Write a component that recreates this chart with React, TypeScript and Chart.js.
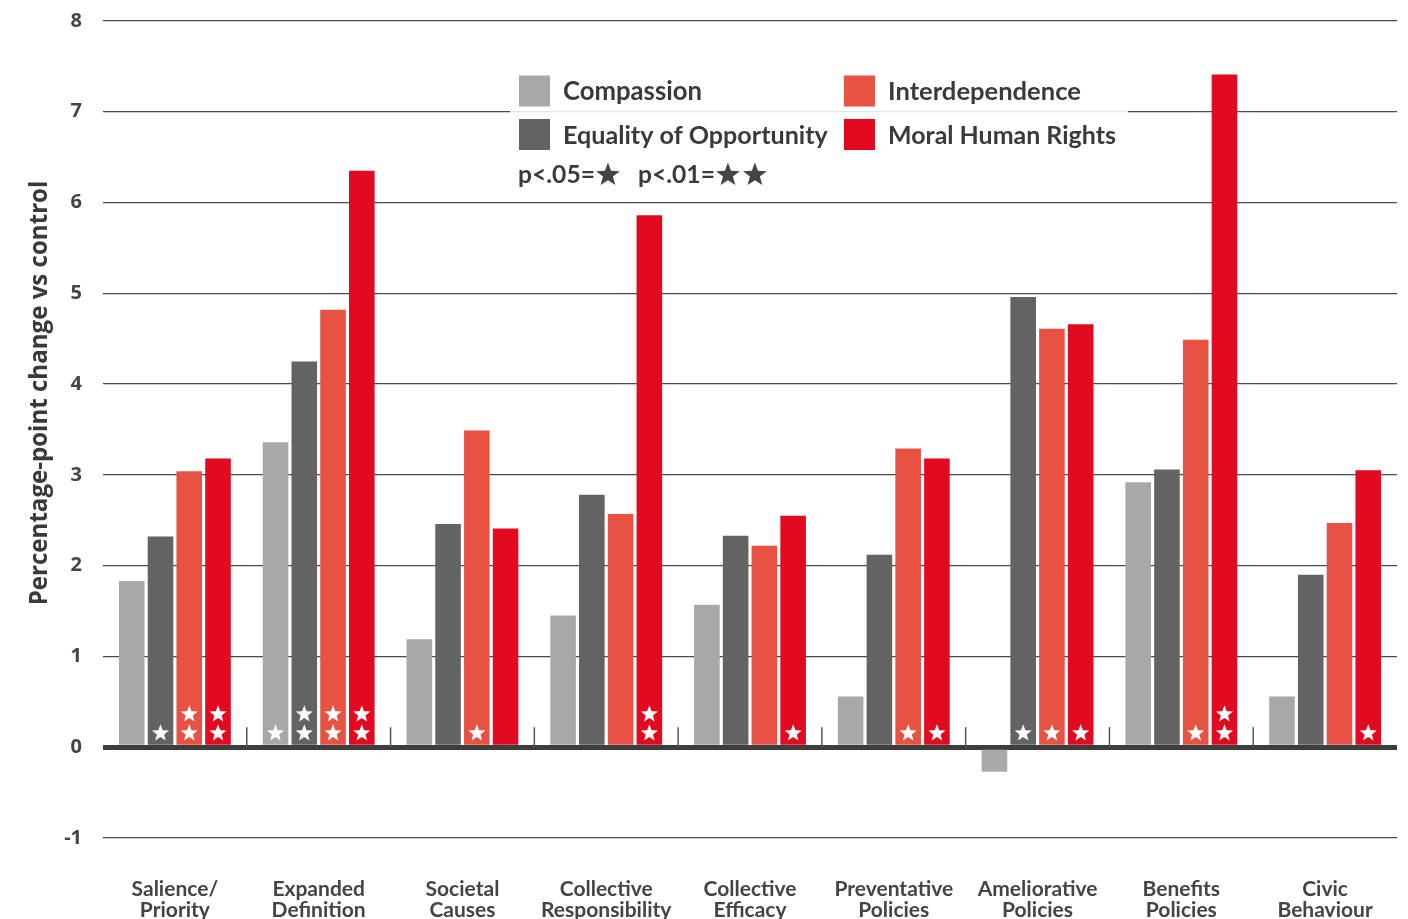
import React, { useEffect, useRef } from 'react';
import { Chart, registerables } from 'chart.js';

Chart.register(...registerables);

const categories: string[][] = [
  ['Salience/', 'Priority'],
  ['Expanded', 'Definition'],
  ['Societal', 'Causes'],
  ['Collective', 'Responsibility'],
  ['Collective', 'Efficacy'],
  ['Preventative', 'Policies'],
  ['Ameliorative', 'Policies'],
  ['Benefits', 'Policies'],
  ['Civic', 'Behaviour'],
];

const seriesNames = ['Compassion', 'Equality of Opportunity', 'Interdependence', 'Moral Human Rights'];
const seriesColors = ['#a8a8a8', '#636363', '#e85243', '#e20a20'];

const compassion = [1.83, 3.36, 1.19, 1.45, 1.57, 0.56, -0.27, 2.92, 0.56];
const equality = [2.32, 4.25, 2.46, 2.78, 2.33, 2.12, 4.96, 3.06, 1.9];
const interdependence = [3.04, 4.82, 3.49, 2.57, 2.22, 3.29, 4.61, 4.49, 2.47];
const moralRights = [3.18, 6.35, 2.41, 5.86, 2.55, 3.18, 4.66, 7.41, 3.05];

// number of significance stars per bar (1 = p<.05, 2 = p<.01)
const compassionStars = [0, 1, 0, 0, 0, 0, 0, 0, 0];
const equalityStars = [1, 2, 0, 0, 0, 0, 1, 0, 0];
const interdependenceStars = [2, 2, 1, 0, 0, 1, 1, 1, 0];
const moralStars = [2, 2, 0, 2, 1, 1, 1, 2, 1];

const yTitle = 'Percentage-point change vs control';
const pLegend = [
  { label: 'p<.05=', stars: 1 },
  { label: 'p<.01=', stars: 2 },
];

const FONT = 'Lato, "Open Sans", sans-serif';
const TICKFONT = '"Open Sans", Lato, sans-serif';
const TEXT = '#444444';

function drawStar(ctx: CanvasRenderingContext2D, cx: number, cy: number, R: number, r: number) {
  ctx.beginPath();
  for (let i = 0; i < 10; i++) {
    const a = -Math.PI / 2 + (i * Math.PI) / 5;
    const rad = i % 2 ? r : R;
    const x = cx + rad * Math.cos(a);
    const y = cy + rad * Math.sin(a);
    if (i === 0) ctx.moveTo(x, y);
    else ctx.lineTo(x, y);
  }
  ctx.closePath();
  ctx.fill();
}

function fitFont(ctx: CanvasRenderingContext2D, text: string, weight: string, family: string, target: number, start: number) {
  ctx.font = `${weight} ${start}px ${family}`;
  const w = ctx.measureText(text).width;
  const size = (start * target) / w;
  ctx.font = `${weight} ${size}px ${family}`;
}

const decorPlugin = {
  id: 'decor',
  afterDraw(chart: any) {
    const ctx: CanvasRenderingContext2D = chart.ctx;
    const xs = chart.scales.x;
    const ys = chart.scales.y;
    const zeroY = ys.getPixelForValue(0);
    ctx.save();

    // category separator ticks on zero line
    const n = categories.length;
    const catW = (chart.chartArea.right - chart.chartArea.left) / n;
    ctx.strokeStyle = '#555555';
    ctx.lineWidth = 1.5;
    for (let i = 1; i < n; i++) {
      const x = xs.getPixelForValue(i) - catW / 2;
      ctx.beginPath();
      ctx.moveTo(x, zeroY - 20);
      ctx.lineTo(x, zeroY);
      ctx.stroke();
    }

    // stars in bars
    const starSets = [compassionStars, equalityStars, interdependenceStars, moralStars];
    ctx.fillStyle = '#ffffff';
    starSets.forEach((set, d) => {
      const meta = chart.getDatasetMeta(d);
      set.forEach((cnt, i) => {
        const bar = meta.data[i];
        for (let k = 0; k < cnt; k++) {
          drawStar(ctx, bar.x, zeroY - 14 - k * 19, 9, 3.8);
        }
      });
    });
    ctx.restore();

    // y axis title
    ctx.save();
    ctx.fillStyle = '#3a3a3a';
    fitFont(ctx, yTitle, 'bold', TICKFONT, 425, 21);
    ctx.translate(40, 393);
    ctx.rotate(-Math.PI / 2);
    ctx.textAlign = 'center';
    ctx.textBaseline = 'middle';
    ctx.fillText(yTitle, 0, 0);
    ctx.restore();

    // legend
    ctx.save();
    ctx.fillStyle = 'rgba(255,255,255,0.86)';
    ctx.fillRect(510, 64, 618, 130);
    const cols = [519, 844];
    const rows = [91, 134.5];
    ctx.textBaseline = 'middle';
    ctx.textAlign = 'left';
    const targets = [139, 265, 193, 228];
    seriesNames.forEach((name, idx) => {
      const col = idx === 0 || idx === 1 ? 0 : 1;
      const row = idx === 0 || idx === 2 ? 0 : 1;
      const x = cols[col];
      const y = rows[row];
      ctx.fillStyle = seriesColors[idx];
      ctx.fillRect(x, y - 15.5, 31, 31);
      ctx.fillStyle = '#3a3a3a';
      fitFont(ctx, name, 'bold', FONT, targets[idx], 24);
      ctx.fillText(name, x + 44, y + 1);
    });
    fitFont(ctx, 'p<.05=', 'bold', FONT, 77, 22);
    let px = 518;
    const py = 175;
    pLegend.forEach((p) => {
      ctx.fillStyle = '#3a3a3a';
      ctx.fillText(p.label, px, py);
      px += ctx.measureText(p.label).width;
      ctx.fillStyle = '#444444';
      for (let k = 0; k < p.stars; k++) {
        drawStar(ctx, px + 13, py, 12.5, 5.2);
        px += 27;
      }
      px += 16;
    });
    ctx.restore();
  },
};

export default function App() {
  const ref = useRef<HTMLCanvasElement>(null);
  useEffect(() => {
    document.body.style.margin = '0';
    if (!ref.current) return;
    const chart = new Chart(ref.current, {
      type: 'bar',
      data: {
        labels: categories,
        datasets: [
          { label: seriesNames[0], data: compassion, backgroundColor: seriesColors[0] },
          { label: seriesNames[1], data: equality, backgroundColor: seriesColors[1] },
          { label: seriesNames[2], data: interdependence, backgroundColor: seriesColors[2] },
          { label: seriesNames[3], data: moralRights, backgroundColor: seriesColors[3] },
        ],
      },
      options: {
        animation: false,
        responsive: false,
        layout: { padding: { left: 0, right: 11, top: 21, bottom: 0 } },
        plugins: { legend: { display: false }, tooltip: { enabled: false }, title: { display: false } },
        datasets: { bar: { categoryPercentage: 0.8, barPercentage: 0.89 } },
        scales: {
          x: {
            grid: { display: false },
            border: { display: false },
            ticks: {
              autoSkip: false,
              maxRotation: 0,
              padding: 33,
              color: TEXT,
              font: { family: FONT, weight: 'bold', size: 21, lineHeight: 1.0 },
            },
            afterFit: (s: any) => {
              s.height = 81;
              s.paddingLeft = 0;
              s.paddingRight = 0;
            },
          },
          y: {
            min: -1,
            max: 8,
            z: 1,
            border: { display: false },
            grid: {
              drawTicks: false,
              color: (c: any) => (c.tick && c.tick.value === 0 ? '#3d3d3d' : '#4a4a4a'),
              lineWidth: (c: any) => (c.tick && c.tick.value === 0 ? 5 : 1.3),
            },
            ticks: {
              stepSize: 1,
              padding: 21,
              color: TEXT,
              font: { family: TICKFONT, weight: 'bold', size: 20 },
            },
            afterFit: (s: any) => {
              s.width = 103;
              s.paddingTop = 0;
              s.paddingBottom = 0;
            },
          },
        },
      } as any,
      plugins: [decorPlugin],
    });
    return () => chart.destroy();
  }, []);
  return (
    <div style={{ width: 1408, height: 919 }}>
      <canvas ref={ref} width={1408} height={919} style={{ display: 'block' }} />
    </div>
  );
}
